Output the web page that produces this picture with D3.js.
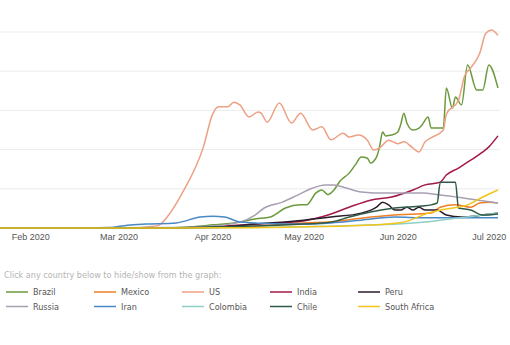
<!DOCTYPE html>
<html>
<head>
<meta charset="utf-8">
<script src="https://cdn.jsdelivr.net/npm/d3@7"></script>
<style>
  body { margin: 0; background: #fff; }
  svg { display: block; font-family: "DejaVu Sans Condensed", "DejaVu Sans", sans-serif; font-stretch: condensed; }
  .x-axis text { fill: #555; font-size: 9px; }
  .legend-title { fill: #b4b4b4; font-size: 9px; }
  .legend-label { fill: #555; font-size: 9px; }
</style>
</head>
<body>
<svg id="chart"></svg>
<script>
// daily new cases: [date, cases]
const brazil = [["2020-01-22",0],["2020-03-15",0],["2020-03-25",300],["2020-04-01",800],["2020-04-10",1500],["2020-04-15",2300],["2020-04-20",2800],["2020-04-25",5100],["2020-04-30",5900],["2020-05-02",5900],["2020-05-05",8900],["2020-05-07",9700],["2020-05-09",8500],["2020-05-11",9700],["2020-05-13",12000],["2020-05-16",14000],["2020-05-18",16100],["2020-05-20",18100],["2020-05-22",17800],["2020-05-23",16600],["2020-05-25",18100],["2020-05-26",20700],["2020-05-27",24500],["2020-05-28",23500],["2020-05-30",23700],["2020-06-01",24500],["2020-06-02",26500],["2020-06-03",29300],["2020-06-04",26800],["2020-06-06",25000],["2020-06-08",25500],["2020-06-09",26300],["2020-06-11",28300],["2020-06-12",25500],["2020-06-16",25500],["2020-06-17",35700],["2020-06-19",30600],["2020-06-20",33400],["2020-06-22",31400],["2020-06-24",41600],["2020-06-27",35200],["2020-06-29",35200],["2020-07-01",41600],["2020-07-04",35700]];
const mexico = [["2020-01-22",0],["2020-03-20",0],["2020-04-01",200],["2020-04-15",500],["2020-05-01",1300],["2020-05-10",1600],["2020-05-20",2500],["2020-05-31",3300],["2020-06-12",3800],["2020-06-15",5300],["2020-06-20",5900],["2020-06-25",5300],["2020-06-28",6400],["2020-07-01",6600],["2020-07-04",6400]];
const us = [["2020-01-22",0],["2020-03-05",0],["2020-03-11",300],["2020-03-14",600],["2020-03-18",3800],["2020-03-22",8900],["2020-03-29",20700],["2020-04-01",29000],["2020-04-03",30900],["2020-04-06",30900],["2020-04-08",32100],["2020-04-10",31400],["2020-04-13",28300],["2020-04-16",29600],["2020-04-17",29300],["2020-04-19",27000],["2020-04-23",31900],["2020-04-27",26800],["2020-04-30",29300],["2020-05-04",25000],["2020-05-07",25800],["2020-05-10",22500],["2020-05-14",24200],["2020-05-16",23200],["2020-05-19",23700],["2020-05-22",22400],["2020-05-24",19900],["2020-05-26",20400],["2020-05-29",22400],["2020-06-01",21500],["2020-06-03",22000],["2020-06-06",20400],["2020-06-08",19400],["2020-06-10",22000],["2020-06-12",23000],["2020-06-16",25000],["2020-06-17",29000],["2020-06-21",32600],["2020-06-23",38800],["2020-06-25",40800],["2020-06-28",44600],["2020-06-30",49700],["2020-07-02",50500],["2020-07-03",50000],["2020-07-04",49200]];
const india = [["2020-01-22",0],["2020-03-20",0],["2020-04-01",300],["2020-04-15",1000],["2020-05-01",1800],["2020-05-09",3300],["2020-05-16",5300],["2020-05-23",7100],["2020-05-30",7900],["2020-06-06",9700],["2020-06-10",11000],["2020-06-15",11700],["2020-06-17",13500],["2020-06-21",15300],["2020-06-25",17300],["2020-06-29",19400],["2020-07-01",20700],["2020-07-04",23500]];
const peru = [["2020-01-22",0],["2020-03-20",0],["2020-04-01",100],["2020-04-15",1000],["2020-05-01",2000],["2020-05-10",2800],["2020-05-20",3800],["2020-05-25",5300],["2020-05-27",6600],["2020-05-29",5900],["2020-05-31",4600],["2020-06-02",4600],["2020-06-04",5300],["2020-06-06",4600],["2020-06-08",5300],["2020-06-10",4600],["2020-06-14",4600],["2020-06-17",3300],["2020-06-22",2800],["2020-06-29",3300],["2020-07-04",3800]];
const russia = [["2020-01-22",0],["2020-03-20",100],["2020-04-01",500],["2020-04-10",1500],["2020-04-15",3300],["2020-04-18",5100],["2020-04-24",6600],["2020-04-29",8400],["2020-05-04",10200],["2020-05-08",11000],["2020-05-11",11000],["2020-05-15",10200],["2020-05-20",9200],["2020-05-28",8900],["2020-06-09",8900],["2020-06-15",8400],["2020-06-23",7600],["2020-07-04",6400]];
const iran = [["2020-01-22",0],["2020-02-20",0],["2020-02-27",100],["2020-03-04",700],["2020-03-10",1000],["2020-03-20",1300],["2020-03-28",2800],["2020-04-01",3000],["2020-04-05",2800],["2020-04-10",1500],["2020-04-15",1300],["2020-04-25",1000],["2020-05-01",1000],["2020-05-10",1300],["2020-05-20",2000],["2020-05-31",2800],["2020-06-10",2600],["2020-06-20",2600],["2020-07-04",2600]];
const colombia = [["2020-01-22",0],["2020-03-20",0],["2020-04-01",50],["2020-04-20",200],["2020-05-01",300],["2020-05-15",600],["2020-05-25",800],["2020-06-01",1000],["2020-06-10",1500],["2020-06-20",2500],["2020-07-01",3500],["2020-07-04",3800]];
const chile = [["2020-01-22",0],["2020-03-20",0],["2020-04-01",300],["2020-04-15",500],["2020-05-01",1000],["2020-05-10",1500],["2020-05-16",2800],["2020-05-23",4100],["2020-05-31",5100],["2020-06-09",5600],["2020-06-12",5900],["2020-06-14",6400],["2020-06-15",11700],["2020-06-20",11700],["2020-06-21",5100],["2020-06-25",4600],["2020-06-29",3300],["2020-07-04",3600]];
const southAfrica = [["2020-01-22",0],["2020-03-20",0],["2020-04-01",50],["2020-04-20",150],["2020-05-01",300],["2020-05-15",500],["2020-05-25",800],["2020-06-01",1300],["2020-06-03",1500],["2020-06-11",3800],["2020-06-15",4600],["2020-06-24",5900],["2020-06-29",7900],["2020-07-04",9700]];

const countries = ["Brazil", "Mexico", "US", "India", "Peru", "Russia", "Iran", "Colombia", "Chile", "South Africa"];
const seriesData = [brazil, mexico, us, india, peru, russia, iran, colombia, chile, southAfrica];
const colors = ["#6b9a3c", "#f07f26", "#eea084", "#a3184a", "#2b1b2b", "#a89fb3", "#4a88c6", "#8fcfc8", "#2f5a48", "#f3c51b"];
const gridValues = [10000, 20000, 30000, 40000, 50000];
const legendTitle = "Click any country below to hide/show from the graph:";

const width = 510, height = 345;
const parse = d3.timeParse("%Y-%m-%d");

const svg = d3.select("#chart")
  .attr("width", width)
  .attr("height", height);

const xScale = d3.scaleTime()
  .domain([parse("2020-01-22"), parse("2020-07-05")])
  .range([0, 501]);

const yScale = d3.scaleLinear()
  .domain([0, 50000])
  .range([228, 32]);

// gridlines
svg.append("g").selectAll("line")
  .data(gridValues)
  .join("line")
  .attr("x1", 0)
  .attr("x2", 500)
  .attr("y1", d => yScale(d))
  .attr("y2", d => yScale(d))
  .attr("stroke", "#ececec")
  .attr("stroke-width", 1);

// x axis
const xAxis = d3.axisBottom(xScale)
  .ticks(d3.timeMonth.every(1))
  .tickFormat(d3.timeFormat("%b %Y"))
  .tickSize(0)
  .tickPadding(6);

svg.append("g")
  .attr("class", "x-axis")
  .attr("transform", `translate(0,${yScale(0)})`)
  .call(xAxis)
  .call(g => g.select(".domain").remove())
  .call(g => g.selectAll("text").attr("font-family", null).attr("font-size", null));

// lines
const line = d3.line()
  .x(d => xScale(parse(d[0])))
  .y(d => yScale(d[1]))
  .curve(d3.curveMonotoneX);

svg.append("g").selectAll("path")
  .data(seriesData)
  .join("path")
  .attr("d", d => line(d))
  .attr("fill", "none")
  .attr("stroke", (d, i) => colors[i])
  .attr("stroke-width", 1.5)
  .attr("stroke-linejoin", "round");

// legend
svg.append("text")
  .attr("class", "legend-title")
  .attr("x", 4)
  .attr("y", 278)
  .text(legendTitle);

const legend = svg.append("g").selectAll("g")
  .data(countries)
  .join("g")
  .attr("transform", (d, i) => `translate(${6 + (i % 5) * 88},${i < 5 ? 292 : 306.5})`);

legend.append("line")
  .attr("x1", 0)
  .attr("x2", 22)
  .attr("stroke", (d, i) => colors[i])
  .attr("stroke-width", 1.5);

legend.append("text")
  .attr("class", "legend-label")
  .attr("x", 27)
  .attr("dy", "0.35em")
  .text(d => d);
</script>
</body>
</html>
